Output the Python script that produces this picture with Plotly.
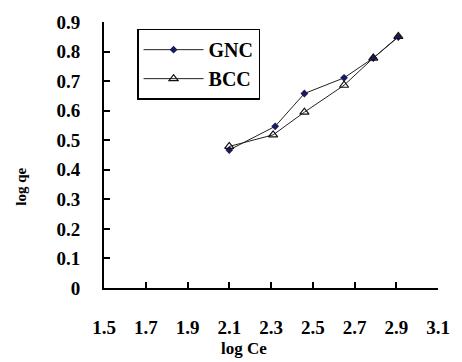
import plotly.graph_objects as go

# Freundlich isotherm data: log Ce vs log qe
gnc_log_ce = [2.10, 2.32, 2.46, 2.65, 2.79, 2.91]
gnc_log_qe = [0.467, 0.547, 0.658, 0.711, 0.778, 0.849]

bcc_log_ce = [2.10, 2.31, 2.46, 2.65, 2.79, 2.91]
bcc_log_qe = [0.479, 0.518, 0.595, 0.686, 0.778, 0.851]

x_ticks = [1.5, 1.7, 1.9, 2.1, 2.3, 2.5, 2.7, 2.9, 3.1]
y_ticks = [0, 0.1, 0.2, 0.3, 0.4, 0.5, 0.6, 0.7, 0.8, 0.9]

FONT = "Liberation Serif"

fig = go.Figure()
fig.add_trace(go.Scatter(
    x=gnc_log_ce, y=gnc_log_qe, name="GNC", mode="lines+markers",
    line=dict(color="#222222", width=1),
    marker=dict(symbol="diamond", size=6, color="#1a1a5e",
                line=dict(color="#1a1a5e", width=0)),
))
fig.add_trace(go.Scatter(
    x=bcc_log_ce, y=bcc_log_qe, name="BCC", mode="lines+markers",
    line=dict(color="#222222", width=1),
    marker=dict(symbol="triangle-up-open", size=8, color="#111111",
                line=dict(width=1.2)),
))

fig.update_layout(
    width=462, height=362,
    margin=dict(l=104, r=14, t=16, b=74),
    paper_bgcolor="white", plot_bgcolor="white",
    font=dict(family=FONT, size=19, color="black"),
    showlegend=True,
    legend=dict(
        x=0.099, y=0.975, xanchor="left", yanchor="top",
        bgcolor="white", bordercolor="black", borderwidth=1.5,
        font=dict(family=FONT, size=20, color="black", weight="bold"),
        itemwidth=60, tracegroupgap=0,
        entrywidth=128, entrywidthmode="pixels",
    ),
    annotations=[
        dict(text="<b>log Ce</b>", xref="paper", yref="paper",
             x=0.419, y=-0.228, xanchor="center", yanchor="middle",
             showarrow=False, font=dict(family=FONT, size=17)),
        dict(text="<b>log qe</b>", xref="paper", yref="paper",
             x=-0.247, y=0.379, xanchor="center", yanchor="middle",
             textangle=-90, showarrow=False,
             font=dict(family=FONT, size=15)),
    ],
)

fig.update_xaxes(
    range=[1.5, 3.1], tickvals=x_ticks,
    ticktext=[f"{v:.1f}" for v in x_ticks],
    showgrid=False, zeroline=False,
    showline=True, linecolor="black", linewidth=2,
    ticks="inside", ticklen=6, tickwidth=2, tickcolor="black",
    ticklabelstandoff=21,
    tickfont=dict(family=FONT, size=19, weight="bold"),
)
fig.update_yaxes(
    range=[0, 0.9], tickvals=y_ticks,
    ticktext=["0" if v == 0 else f"{v:.1f}" for v in y_ticks],
    showgrid=False, zeroline=False,
    showline=True, linecolor="black", linewidth=2,
    ticks="inside", ticklen=6, tickwidth=2, tickcolor="black",
    ticklabelstandoff=18,
    tickfont=dict(family=FONT, size=19, weight="bold"),
)

fig.write_html("out.html")
